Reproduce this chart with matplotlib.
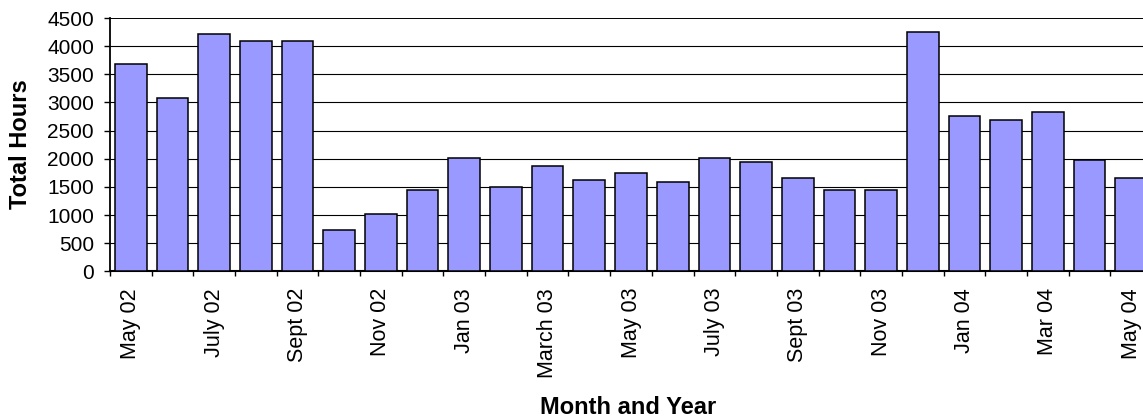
import matplotlib
matplotlib.use("Agg")
import matplotlib.pyplot as plt
import numpy as np

plt.rcParams['font.family'] = ['Liberation Sans', 'DejaVu Sans']

months = ["May 02", "June 02", "July 02", "Aug 02", "Sept 02", "Oct 02", "Nov 02",
          "Dec 02", "Jan 03", "Feb 03", "March 03", "April 03", "May 03", "June 03",
          "July 03", "Aug 03", "Sept 03", "Oct 03", "Nov 03", "Dec 03", "Jan 04",
          "Feb 04", "Mar 04", "April 04", "May 04"]
hours = [3680, 3080, 4210, 4100, 4100, 735, 1012, 1440, 2005, 1505, 1865, 1615,
         1755, 1580, 2005, 1935, 1650, 1440, 1440, 4245, 2755, 2685, 2825, 1970, 1650]
shown_labels = ["May 02", "July 02", "Sept 02", "Nov 02", "Jan 03", "March 03",
                "May 03", "July 03", "Sept 03", "Nov 03", "Jan 04", "Mar 04", "May 04"]
y_ticks = [0, 500, 1000, 1500, 2000, 2500, 3000, 3500, 4000, 4500]

W, H = 1143, 420
fig = plt.figure(figsize=(W / 100, H / 100), dpi=100)
ax = fig.add_axes([110 / W, 1 - 271.3 / H, (1152 - 110) / W, (271.3 - 18) / H])

x = np.arange(len(months))
ax.bar(x, hours, width=0.76, color='#9999FF', edgecolor='black', linewidth=1.1, zorder=3)

ax.set_xlim(-0.5, len(months) - 0.5)
ax.set_ylim(0, 4500)
ax.set_yticks(y_ticks)
ax.set_yticklabels([str(v) for v in y_ticks], fontsize=15)
for v in y_ticks[1:]:
    ax.axhline(v, color='black', linewidth=0.8 if v < 4500 else 1.4, zorder=1)

# boundary ticks (no labels), labels at every other category centre
ax.set_xticks(np.arange(-0.5, len(months), 1.0))
ax.set_xticklabels([])
label_pos = [months.index(m) for m in shown_labels]
ax.set_xticks(label_pos, minor=True)
ax.set_xticklabels(shown_labels, minor=True, rotation=90, fontsize=15.5)
ax.tick_params(axis='x', which='major', direction='out', length=3.5, width=1.0)
ax.tick_params(axis='x', which='minor', length=0, pad=12)
ax.tick_params(axis='y', direction='out', length=4.5, width=1.0, pad=7)

for s in ['top', 'right']:
    ax.spines[s].set_visible(False)
ax.spines['left'].set_linewidth(1.3)
ax.spines['bottom'].set_linewidth(1.5)

fig.text(21 / W, 1 - 144.5 / H, 'Total Hours', rotation=90, ha='center', va='center',
         fontsize=17, fontweight='bold')
fig.text(628 / W, 1 - 414 / H, 'Month and Year', ha='center', va='baseline',
         fontsize=17, fontweight='bold')

fig.savefig('out.png', dpi=100)
